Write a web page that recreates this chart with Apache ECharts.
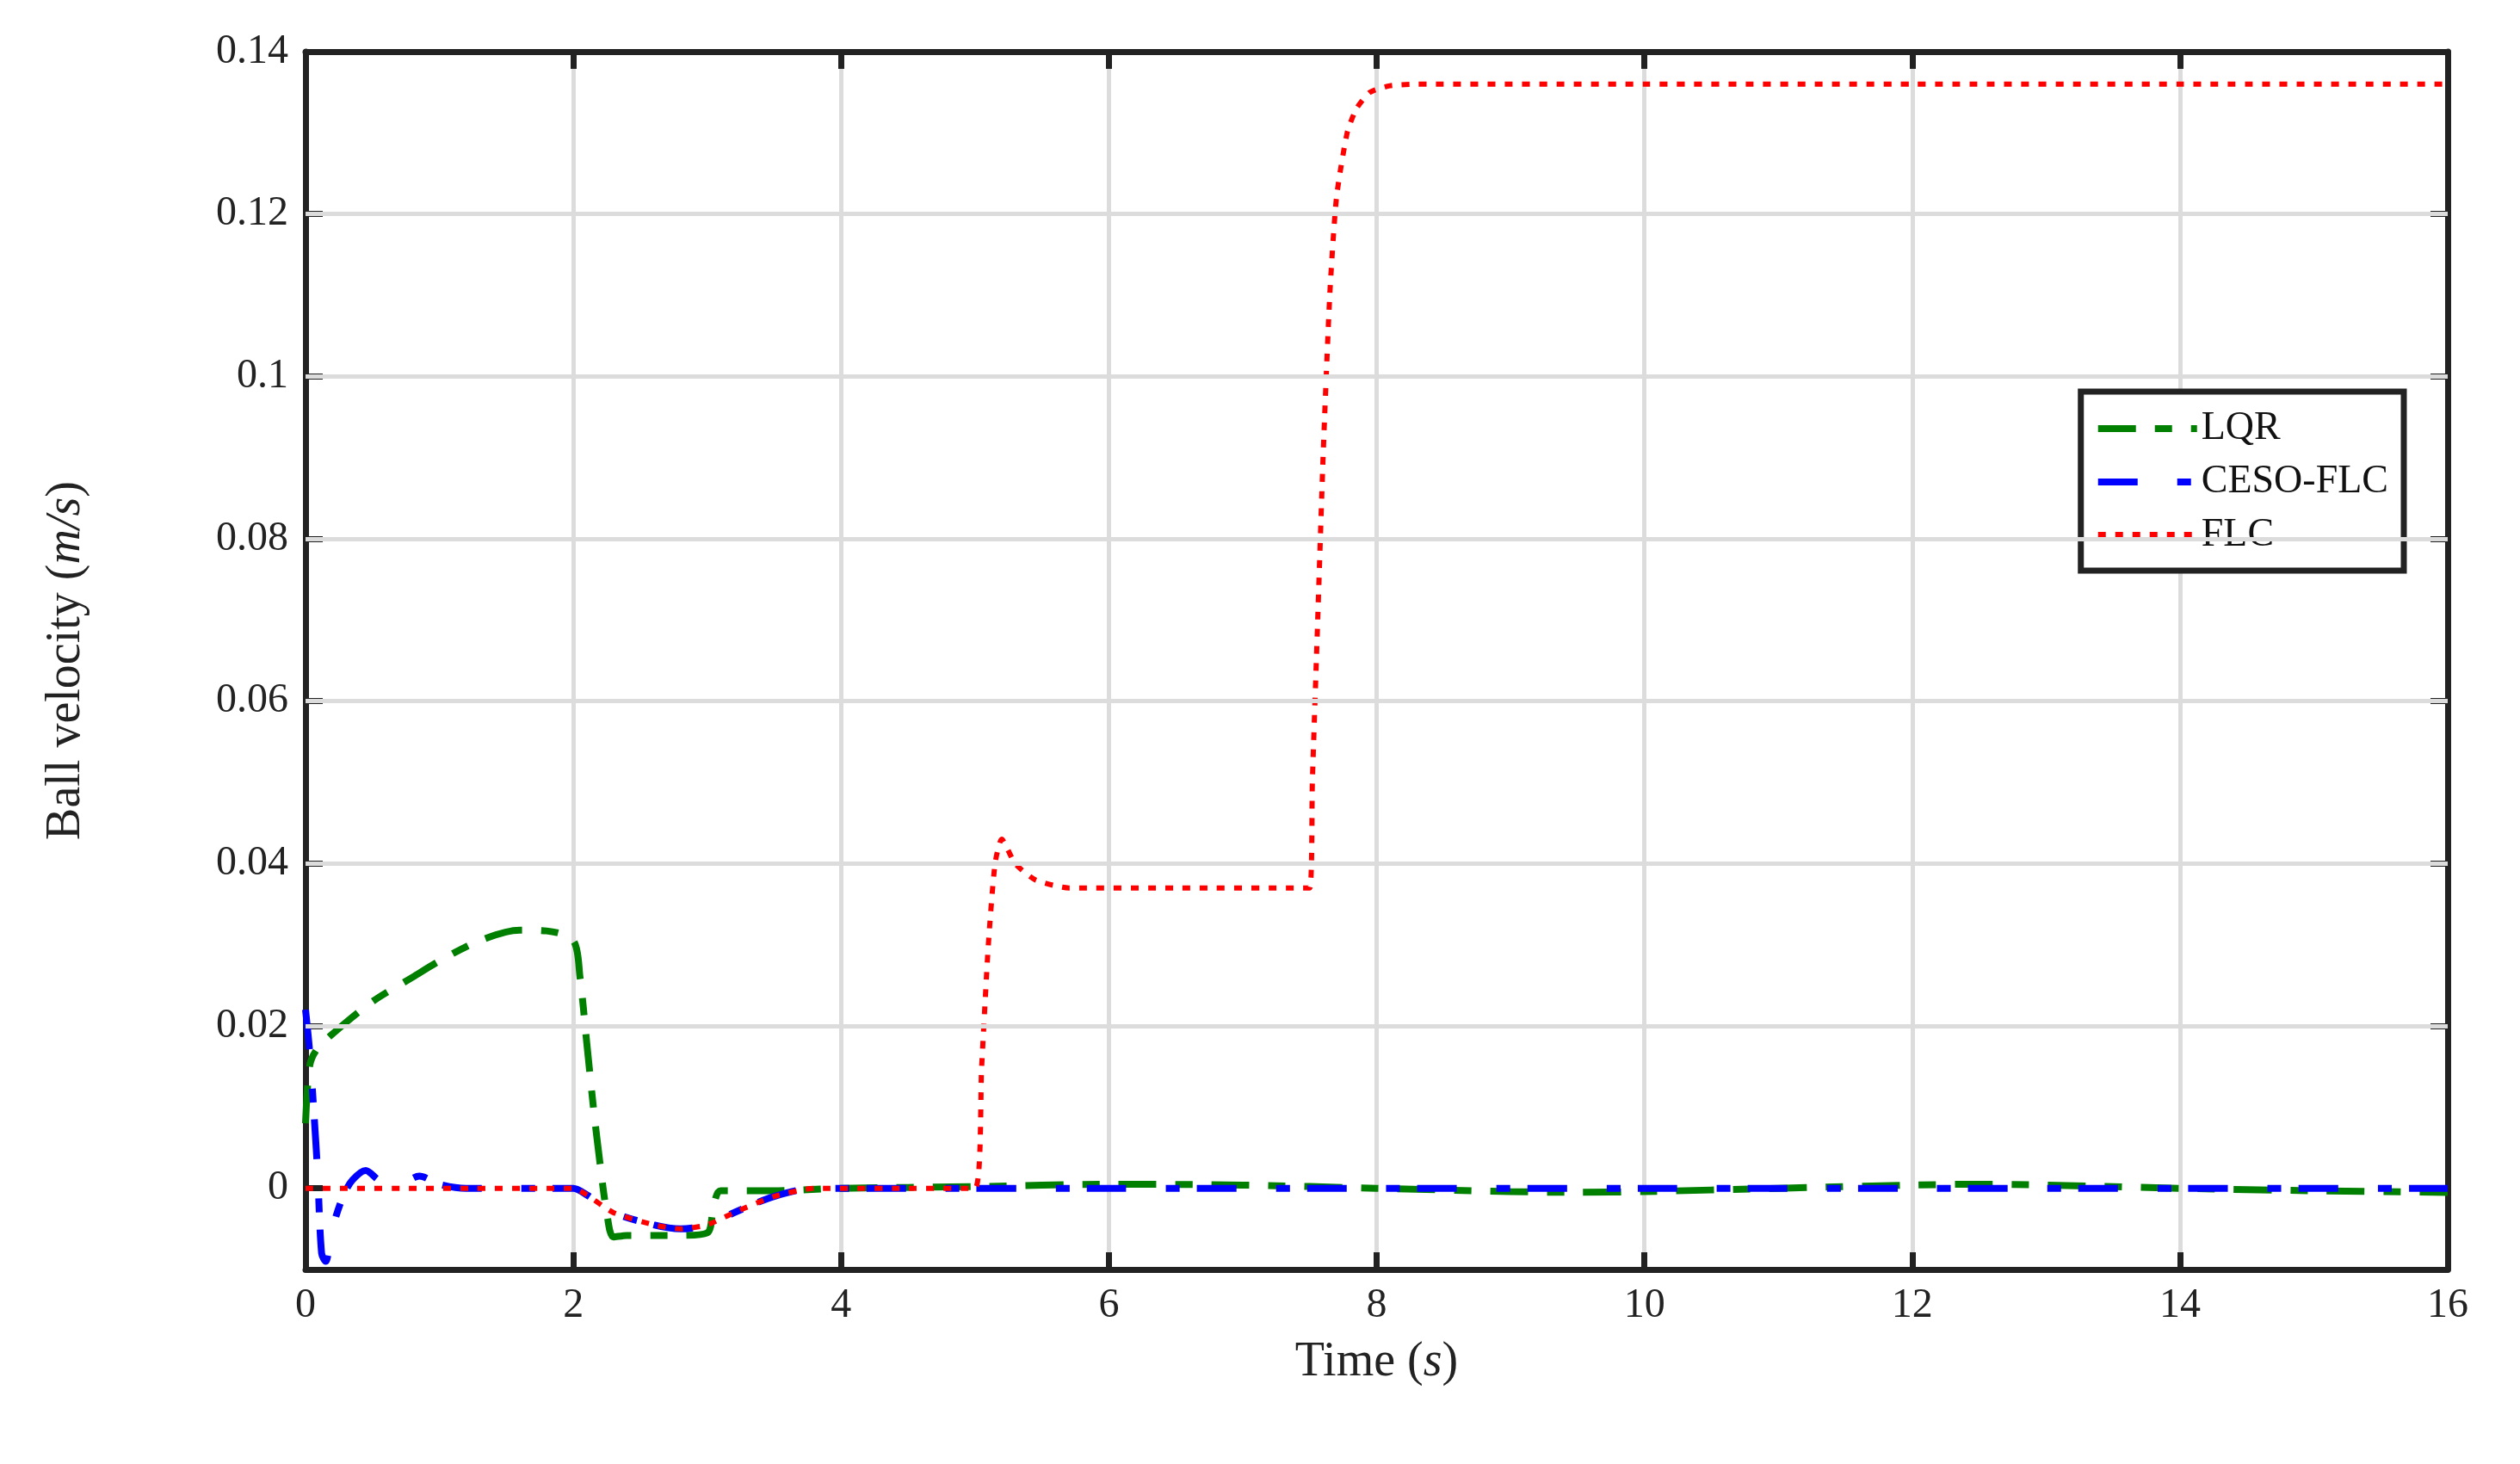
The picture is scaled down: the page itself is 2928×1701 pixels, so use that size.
<!DOCTYPE html>
<html><head><meta charset="utf-8">
<script src="https://cdn.jsdelivr.net/npm/echarts@6/dist/echarts.min.js"></script>
<style>html,body{margin:0;padding:0;background:#fff}#c{width:2928px;height:1701px}</style>
</head><body><div id="c"></div>
<script>
const xTicks = [0,2,4,6,8,10,12,14,16];
const yTicks = ['0','0.02','0.04','0.06','0.08','0.1','0.12','0.14'];
const lqrT = [0,0.03,0.08,0.2,0.5,0.8,1.0,1.3,1.6,1.8,2.0,2.05,2.1,2.15,2.2,2.25,2.3,2.4,2.6,2.8,3.0,3.05,3.1,3.5,4,5,6,7,8,9,9.5,10,11,12,12.5,13,14,15,16];
const lqrV = [0.008,0.015,0.017,0.019,0.023,0.026,0.028,0.0305,0.0318,0.0317,0.0305,0.026,0.018,0.01,0.003,-0.003,-0.006,-0.0058,-0.0058,-0.0058,-0.0055,-0.002,-0.0003,-0.0003,0,0.0002,0.0005,0.0004,0,-0.0004,-0.0005,-0.0004,0,0.0004,0.0005,0.0004,0,-0.0003,-0.0005];
const cesoT = [0,0.03,0.06,0.09,0.12,0.15,0.2,0.28,0.35,0.45,0.55,0.7,0.85,1.0,1.2,1.6,2.0,2.1,2.3,2.6,2.8,3.0,3.2,3.5,3.8,4.5,6,8,10,12,14,16];
const cesoV = [0.022,0.017,0.01,0.002,-0.008,-0.009,-0.005,-0.001,0.001,0.0022,0.001,0.0005,0.0015,0.0005,0,0,0,-0.0008,-0.003,-0.0045,-0.005,-0.0045,-0.003,-0.001,0,0,0,0,0,0,0,0];
const flcT = [0,1,2.0,2.1,2.3,2.6,2.8,3.0,3.2,3.5,3.8,4.5,5.0,5.05,5.1,5.15,5.2,5.3,5.45,5.7,6.5,7.5,7.52,7.56,7.6,7.65,7.7,7.78,7.85,7.95,8.1,8.3,10,12,14,16];
const flcV = [0,0,0,-0.0008,-0.003,-0.0045,-0.005,-0.0045,-0.003,-0.001,0,0,0,0.015,0.03,0.04,0.043,0.04,0.038,0.037,0.037,0.037,0.05,0.07,0.09,0.11,0.122,0.13,0.133,0.135,0.1358,0.136,0.136,0.136,0.136,0.136];
const zip=(a,b)=>a.map((t,i)=>[t,b[i]]);
const yVals = yTicks.map(Number);
const ch = echarts.init(document.getElementById('c'));
const F = 'Liberation Serif';
const ax = {onZero:false,lineStyle:{color:'#222',width:7}};
const tick = {inside:true,length:20,lineStyle:{color:'#222',width:7}};
const rich = {n:{fontFamily:F,fontSize:56,color:'#222'},i:{fontFamily:F,fontSize:56,fontStyle:'italic',color:'#222'}};
ch.setOption({
  animation:false,
  textStyle:{fontFamily:F},
  grid:{left:355,right:84,top:60,bottom:226},
  legend:{right:135,top:455,orient:'vertical',itemWidth:115,itemHeight:20,itemGap:16,
    backgroundColor:'#fff',borderColor:'#222',borderWidth:7,padding:[20,18,18,16],
    itemStyle:{opacity:0},lineStyle:{width:8},
    textStyle:{fontFamily:F,fontSize:46,color:'#111'},data:['LQR','CESO-FLC','FLC']},
  xAxis:[{type:'value',min:0,max:16,interval:2,axisLine:ax,axisTick:tick,
    splitLine:{show:true,lineStyle:{color:'#dcdcdc',width:5}},
    axisLabel:{fontFamily:F,fontSize:48,color:'#222',margin:18},
    name:'{n|Time (}{i|s}{n|)}',nameLocation:'middle',nameGap:80,nameTextStyle:{rich}},
    {type:'value',position:'top',min:0,max:16,interval:2,axisLine:ax,axisTick:tick,axisLabel:{show:false},splitLine:{show:false}}],
  yAxis:[{type:'value',min:-0.01,max:0.14,axisLine:ax,
    axisTick:Object.assign({customValues:yVals},tick),splitLine:{show:false},
    axisLabel:{customValues:yVals,fontFamily:F,fontSize:48,color:'#222',margin:20,
      formatter:v=>{const s=yTicks.find(t=>Math.abs(parseFloat(t)-v)<1e-6);return s===undefined?'':s;}},
    name:'{n|Ball velocity (}{i|m/s}{n|)}',nameLocation:'middle',nameGap:250,nameTextStyle:{rich}},
    {type:'value',position:'right',min:-0.01,max:0.14,axisLine:ax,
    axisTick:Object.assign({customValues:yVals},tick),axisLabel:{show:false,customValues:yVals},splitLine:{show:false}}],
  series:[
    {name:'grid',type:'line',data:[],z:1,silent:true,
      markLine:{silent:true,symbol:'none',label:{show:false},lineStyle:{color:'#dcdcdc',width:5,type:'solid'},
        data:yVals.filter(v=>v>0&&v<0.14).map(v=>({yAxis:v}))}},
    {name:'LQR',type:'line',data:zip(lqrT,lqrV),symbol:'none',smooth:0.3,color:'#007f00',z:3,
      lineStyle:{width:8,type:[44,22,20,22],color:'#007f00'}},
    {name:'CESO-FLC',type:'line',data:zip(cesoT,cesoV),symbol:'none',smooth:0.3,color:'#0000ff',z:3,
      lineStyle:{width:8,type:[46,46,16,20],color:'#0000ff'}},
    {name:'FLC',type:'line',data:zip(flcT,flcV),symbol:'none',smooth:0.2,color:'#ff0000',z:4,
      lineStyle:{width:6,type:[9,11],color:'#ff0000'}}
  ]
});
</script></body></html>
